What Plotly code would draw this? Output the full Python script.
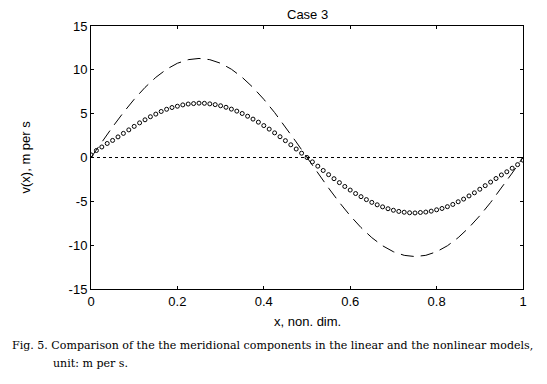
import plotly.graph_objects as go

# ---- data ----
x_nl = [i * 0.0125 for i in range(81)]
v_first_half = [0.3, 0.8, 1.2, 1.6, 1.95, 2.35, 2.75, 3.15, 3.55, 3.95,
                4.3, 4.65, 4.95, 5.25, 5.5, 5.7, 5.85, 6.0, 6.1, 6.15,
                6.2, 6.18, 6.12, 6.03, 5.9, 5.73, 5.52, 5.29, 5.02, 4.71,
                4.38, 4.03, 3.64, 3.24, 2.81, 2.37, 1.92, 1.45, 0.97, 0.49]
v_nonlinear = v_first_half + [0.0] + [-(v * 1.02) for v in reversed(v_first_half)]

x_lin = [i * 0.025 for i in range(41)]
v_lin_half = [0.0, 1.77, 3.49, 5.13, 6.64, 7.99, 9.14, 10.07, 10.75, 11.16,
              11.3, 11.16, 10.75, 10.07, 9.14, 7.99, 6.64, 5.13, 3.49, 1.77]
v_linear = v_lin_half + [0.0] + [-v for v in v_lin_half[1:]] + [0.0]

x_zero = [0, 1]
v_zero = [0, 0]

x_ticks = [0, 0.2, 0.4, 0.6, 0.8, 1]
x_ticklabels = ["0", "0.2", "0.4", "0.6", "0.8", "1"]
y_ticks = [-15, -10, -5, 0, 5, 10, 15]
y_ticklabels = ["-15", "-10", "-5", "0", "5", "10", "15"]

# the page body adds an 8px margin; size the figure so it fills the window
OFF = 8
W, H = 547 - OFF, 384 - OFF
L, R, T, B = 91 - OFF, 24, 26 - OFF, 95

fig = go.Figure()
fig.add_trace(go.Scatter(x=x_zero, y=v_zero, mode="lines",
                         line=dict(color="black", width=1, dash="dot"),
                         showlegend=False, hoverinfo="skip"))
fig.add_trace(go.Scatter(x=x_lin, y=v_linear, mode="lines",
                         line=dict(color="black", width=1, dash="13px,7px"),
                         showlegend=False))
fig.add_trace(go.Scatter(x=x_nl, y=v_nonlinear, mode="markers",
                         marker=dict(symbol="circle-open", size=4,
                                     color="black", line=dict(width=1)),
                         showlegend=False))

axis_font = dict(family="Liberation Sans, Arial, sans-serif", size=13, color="black")
fig.update_xaxes(range=[0, 1], tickvals=x_ticks, ticktext=x_ticklabels,
                 ticks="inside", ticklen=3, tickcolor="black",
                 showline=True, linecolor="black", linewidth=1, mirror="ticks",
                 showgrid=False, zeroline=False, tickfont=axis_font, automargin=False)
fig.update_yaxes(range=[-15, 15], tickvals=y_ticks, ticktext=y_ticklabels,
                 ticks="inside", ticklen=3, tickcolor="black",
                 showline=True, linecolor="black", linewidth=1, mirror="ticks",
                 showgrid=False, zeroline=False, tickfont=axis_font, automargin=False)

cap_font = dict(family="DejaVu Serif, serif", size=11.05, color="black")
fig.update_layout(
    width=W, height=H,
    margin=dict(l=L, r=R, t=T, b=B, autoexpand=False),
    paper_bgcolor="white", plot_bgcolor="white",
    annotations=[
        dict(text="Case 3", x=0.5, y=1, xref="paper", yref="paper",
             xanchor="center", yanchor="middle", yshift=11.5, showarrow=False,
             font=axis_font),
        dict(text="x, non. dim.", x=0.5, y=0, xref="paper", yref="paper",
             xanchor="center", yanchor="top", yshift=-23, showarrow=False,
             font=axis_font),
        dict(text="v(x), m per s", x=0, y=0.5, xref="paper", yref="paper",
             xanchor="center", yanchor="middle", xshift=-66, showarrow=False,
             textangle=-90, font=axis_font),
        dict(text="Fig. 5. Comparison of the the meridional components in the linear and the nonlinear models,",
             x=10 - OFF, y=345 - OFF, xref="paper", yref="paper", showarrow=False,
             xanchor="left", yanchor="middle", font=cap_font),
        dict(text="unit: m per s.",
             x=51 - OFF, y=363 - OFF, xref="paper", yref="paper", showarrow=False,
             xanchor="left", yanchor="middle", font=cap_font),
    ],
)

# convert pixel positions of caption annotations to paper coords
pw = W - L - R
ph = H - T - B
for a in fig.layout.annotations[3:]:
    px, py = a.x, a.y
    a.x = (px - L) / pw
    a.y = (H - B - py) / ph

fig.write_html("out.html")
